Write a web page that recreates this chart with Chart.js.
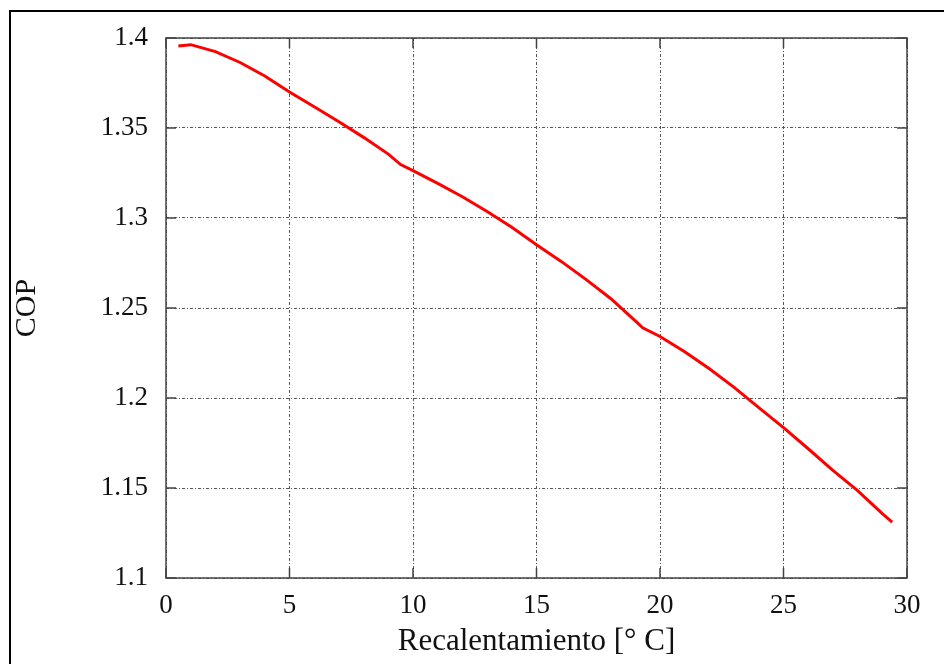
<!DOCTYPE html>
<html>
<head>
<meta charset="utf-8">
<script src="https://cdn.jsdelivr.net/npm/chart.js@4.4.0/dist/chart.umd.min.js"></script>
<style>
  html, body { margin: 0; padding: 0; background: #fff; }
  #wrap { width: 944px; height: 664px; }
</style>
</head>
<body>
<div id="wrap"><canvas id="chart" width="944" height="664"></canvas></div>
<script>
// Datos
const recalentamiento = [0.5, 1, 2, 3, 4, 5, 6, 7, 8, 9, 9.5, 10, 11, 12, 13, 14, 15, 16, 17, 18, 19, 19.3,
                         20, 21, 22, 23, 24, 25, 26, 27, 28, 29, 29.4];
const cop = [1.3955, 1.3963, 1.3924, 1.3864, 1.3789, 1.3700, 1.3618, 1.3535, 1.3448, 1.3355, 1.3297,
             1.3263, 1.3192, 1.3118, 1.3036, 1.2948, 1.2851, 1.2759, 1.2659, 1.2553, 1.2428, 1.2390,
             1.2342, 1.2257, 1.2162, 1.2059, 1.1947, 1.1835, 1.1718, 1.1598, 1.1485, 1.1358, 1.1310];

const xTicks = [0, 5, 10, 15, 20, 25, 30];
const yTicks = [1.1, 1.15, 1.2, 1.25, 1.3, 1.35, 1.4];
const yTickLabels = ["1.1", "1.15", "1.2", "1.25", "1.3", "1.35", "1.4"];

const serif = "'Liberation Serif', 'DejaVu Serif', serif";

// marco exterior + marcas de los ejes hacia dentro
const framePlugin = {
  id: "frame",
  beforeDraw(chart) {
    const c = chart.ctx;
    c.save();
    c.fillStyle = "#fff";
    c.fillRect(0, 0, chart.width, chart.height);
    c.strokeStyle = "#000";
    c.lineWidth = 2;
    c.beginPath();
    c.moveTo(10, chart.height);
    c.lineTo(10, 11);
    c.lineTo(chart.width, 11);
    c.stroke();
    c.restore();
  },
  beforeDatasetsDraw(chart) {
    const c = chart.ctx, a = chart.chartArea;
    const xs = chart.scales.x, ys = chart.scales.y;
    const len = 10;
    c.save();
    c.strokeStyle = "#444";
    c.lineWidth = 1.5;
    c.beginPath();
    xTicks.forEach(v => {
      const px = xs.getPixelForValue(v);
      c.moveTo(px, a.bottom); c.lineTo(px, a.bottom - len);
      c.moveTo(px, a.top); c.lineTo(px, a.top + len);
    });
    yTicks.forEach(v => {
      const py = ys.getPixelForValue(v);
      c.moveTo(a.left, py); c.lineTo(a.left + len, py);
      c.moveTo(a.right, py); c.lineTo(a.right - len, py);
    });
    c.stroke();
    c.strokeRect(a.left, a.top, a.right - a.left, a.bottom - a.top);
    c.restore();
  }
};

new Chart(document.getElementById("chart"), {
  type: "line",
  data: {
    datasets: [{
      data: recalentamiento.map((x, i) => ({ x: x, y: cop[i] })),
      borderColor: "#ff0000",
      borderWidth: 3,
      pointRadius: 0,
      tension: 0,
      fill: false
    }]
  },
  options: {
    responsive: false,
    animation: false,
    layout: { padding: { left: 9, right: 37, top: 38, bottom: 0 } },
    plugins: { legend: { display: false }, tooltip: { enabled: false } },
    scales: {
      x: {
        type: "linear",
        min: 0, max: 30,
        afterBuildTicks: s => { s.ticks = xTicks.map(v => ({ value: v })); },
        afterFit: s => { s.height = 86; },
        grid: { color: "#555", lineWidth: 1, drawTicks: false },
        border: { display: false, dash: [3, 2, 1, 2] },
        ticks: { color: "#111", padding: 12, font: { family: serif, size: 27 }, maxRotation: 0 },
        title: {
          display: true,
          text: "Recalentamiento [° C]",
          color: "#111",
          font: { family: serif, size: 31 },
          padding: { top: 0, bottom: 4 }
        }
      },
      y: {
        type: "linear",
        min: 1.1, max: 1.4,
        afterBuildTicks: s => { s.ticks = yTicks.map(v => ({ value: v })); },
        afterFit: s => { s.width = 157; },
        grid: { color: "#555", lineWidth: 1, drawTicks: false },
        border: { display: false, dash: [3, 2, 1, 2] },
        ticks: {
          color: "#111", padding: 18, font: { family: serif, size: 27 },
          callback: (v, i) => yTickLabels[i]
        },
        title: {
          display: true,
          text: "COP",
          color: "#111",
          font: { family: serif, size: 30 },
          padding: { top: 0, bottom: 0 }
        }
      }
    }
  },
  plugins: [framePlugin]
});
</script>
</body>
</html>
